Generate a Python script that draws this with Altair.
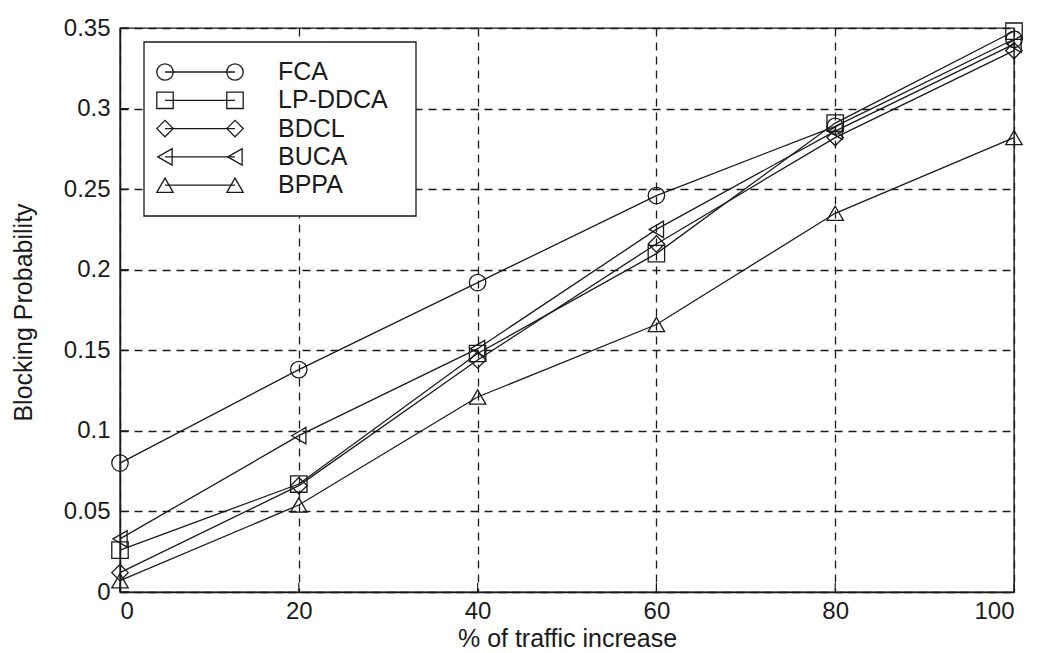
import altair as alt
import pandas as pd

# Traffic increase (%) on the x axis
traffic = [0, 20, 40, 60, 80, 100]

# Blocking probability for each allocation scheme
series_names = ["FCA", "LP-DDCA", "BDCL", "BUCA", "BPPA"]
fca = [0.080, 0.138, 0.192, 0.246, 0.289, 0.343]
lp_ddca = [0.026, 0.067, 0.148, 0.210, 0.291, 0.348]
bdcl = [0.012, 0.066, 0.144, 0.216, 0.282, 0.336]
buca = [0.033, 0.097, 0.151, 0.225, 0.286, 0.340]
bppa = [0.007, 0.054, 0.121, 0.166, 0.235, 0.282]

x_ticks = [0, 20, 40, 60, 80, 100]
y_ticks = [0, 0.05, 0.1, 0.15, 0.2, 0.25, 0.3, 0.35]

shapes = ["circle", "square", "diamond", "triangle-left", "triangle-up"]

FONT = "Liberation Sans"
INK = "#1a1a1a"
W, H = 894, 564

rows = []
for name, vals in zip(series_names, [fca, lp_ddca, bdcl, buca, bppa]):
    for x, v in zip(traffic, vals):
        rows.append({"series": name, "traffic": x, "prob": v})
df = pd.DataFrame(rows)

shape_scale = alt.Scale(domain=series_names, range=shapes)

x_enc = alt.X(
    "traffic:Q",
    scale=alt.Scale(domain=[0, 100], nice=False),
    axis=alt.Axis(
        values=x_ticks, title="% of traffic increase", ticks=False,
        labelPadding=7, titleY=46, titleBaseline="middle",
    ),
)
y_enc = alt.Y(
    "prob:Q",
    scale=alt.Scale(domain=[0, 0.35], nice=False),
    axis=alt.Axis(
        values=y_ticks, format="~g", title="Blocking Probability", ticks=False,
        labelPadding=10, titleX=-97, titleY=H / 2 + 2, titleAngle=-90,
        titleAlign="center", titleBaseline="middle",
    ),
)

base = alt.Chart(df)

lines = base.mark_line(color=INK, strokeWidth=1.3).encode(
    x=x_enc, y=y_enc, detail="series:N"
)
points = base.mark_point(
    filled=False, color=INK, strokeWidth=1.3, size=270, opacity=1
).encode(
    x="traffic:Q", y="prob:Q",
    shape=alt.Shape("series:N", scale=shape_scale, legend=None),
)

# Inward tick marks on the axes
ytick_df = pd.DataFrame({"v": y_ticks})
xtick_df = pd.DataFrame({"v": x_ticks})
yticks = alt.Chart(ytick_df).mark_rule(color=INK, strokeWidth=1.2).encode(
    y="v:Q", x=alt.value(0), x2=alt.value(9)
)
xticks = alt.Chart(xtick_df).mark_rule(color=INK, strokeWidth=1.2).encode(
    x="v:Q", y=alt.value(H), y2=alt.value(H - 9)
)

# Legend box with line-and-marker samples
leg_box = alt.Chart(pd.DataFrame({"k": [0]})).mark_rect(
    fill="white", stroke=INK, strokeWidth=1.3
).encode(x=alt.value(24), x2=alt.value(296), y=alt.value(14), y2=alt.value(188))

leg_df = pd.DataFrame({
    "series": series_names,
    "ly": [44 + i * 28.3 for i in range(len(series_names))],
    "lx1": [45] * len(series_names),
    "lx2": [115] * len(series_names),
    "tx": [158] * len(series_names),
})
leg = alt.Chart(leg_df)
leg_lines = leg.mark_rule(color=INK, strokeWidth=1.3).encode(
    x=alt.X("lx1:Q", scale=None), x2="lx2:Q", y=alt.Y("ly:Q", scale=None)
)
leg_pts_l = leg.mark_point(filled=False, color=INK, strokeWidth=1.3, size=270, opacity=1).encode(
    x=alt.X("lx1:Q", scale=None), y=alt.Y("ly:Q", scale=None),
    shape=alt.Shape("series:N", scale=shape_scale, legend=None),
)
leg_pts_r = leg.mark_point(filled=False, color=INK, strokeWidth=1.3, size=270, opacity=1).encode(
    x=alt.X("lx2:Q", scale=None), y=alt.Y("ly:Q", scale=None),
    shape=alt.Shape("series:N", scale=shape_scale, legend=None),
)
leg_text = leg.mark_text(
    align="left", baseline="middle", font=FONT, fontSize=25, color=INK
).encode(x=alt.X("tx:Q", scale=None), y=alt.Y("ly:Q", scale=None), text="series:N")

chart = alt.layer(
    lines, points, yticks, xticks, leg_box, leg_lines, leg_pts_l, leg_pts_r, leg_text
).resolve_scale(shape="shared").properties(
    width=W, height=H,
    autosize=alt.AutoSizeParams(type="none"),
    padding={"left": 120, "top": 28, "right": 29, "bottom": 61},
    background="white",
).configure_view(
    stroke=INK, strokeWidth=1.4
).configure_axis(
    labelFont=FONT, labelFontSize=24, labelColor=INK,
    titleFont=FONT, titleFontSize=25, titleFontWeight="normal", titleColor=INK,
    domainColor=INK, domainWidth=1.4,
    grid=True, gridColor=INK, gridDash=[8, 6], gridWidth=1.3, gridOpacity=1,
)

chart.save("out.html", embed_options={"renderer": "svg", "actions": False})
